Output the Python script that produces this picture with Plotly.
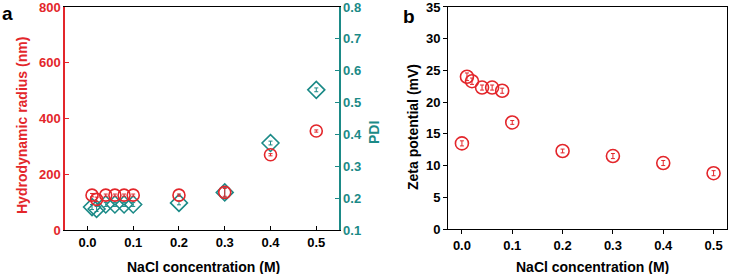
import plotly.graph_objects as go

# ---- data ----
nacl_a = [0.01, 0.02, 0.04, 0.06, 0.08, 0.10, 0.20, 0.30, 0.40, 0.50]
radius_nm = [125, 110, 125, 125, 125, 125, 125, 135, 270, 355]
radius_err = [6, 8, 4, 4, 4, 4, 4, 14, 4, 4]
pdi = [0.172, 0.166, 0.18, 0.18, 0.18, 0.18, 0.185, 0.218, 0.373, 0.54]
pdi_err = [0.008, 0.008, 0.006, 0.006, 0.006, 0.006, 0.006, 0.015, 0.006, 0.006]

nacl_b = [0.0, 0.01, 0.02, 0.04, 0.06, 0.08, 0.10, 0.20, 0.30, 0.40, 0.50]
zeta_mv = [13.5, 24.0, 23.3, 22.3, 22.3, 21.8, 16.8, 12.3, 11.5, 10.4, 8.8]
zeta_err = [0.4, 0.6, 0.5, 0.4, 0.4, 0.4, 0.3, 0.3, 0.4, 0.4, 0.4]

x_ticks = [0.0, 0.1, 0.2, 0.3, 0.4, 0.5]
x_ticktext = ["0.0", "0.1", "0.2", "0.3", "0.4", "0.5"]
r_ticks = [0, 200, 400, 600, 800]
pdi_ticks = [0.1, 0.2, 0.3, 0.4, 0.5, 0.6, 0.7, 0.8]
zeta_ticks = [0, 5, 10, 15, 20, 25, 30, 35]

RED = "#e3262b"
TEAL = "#1b8a87"
FONT = "Arial, Liberation Sans, sans-serif"

fig = go.Figure()

# PDI on the base (right-side) axis so the red circles draw above it
fig.add_trace(go.Scatter(
    x=nacl_a, y=pdi, mode="markers", xaxis="x", yaxis="y",
    marker=dict(symbol="diamond-open", size=13, color=TEAL, line=dict(width=1.6, color=TEAL)),
    error_y=dict(type="data", array=pdi_err, color=TEAL, thickness=1, width=2),
    showlegend=False))
fig.add_trace(go.Scatter(
    x=nacl_a, y=radius_nm, mode="markers", xaxis="x", yaxis="y2",
    marker=dict(symbol="circle-open", size=12, color=RED, line=dict(width=1.6, color=RED)),
    error_y=dict(type="data", array=radius_err, color=RED, thickness=1, width=2),
    showlegend=False))
fig.add_trace(go.Scatter(
    x=nacl_b, y=zeta_mv, mode="markers", xaxis="x2", yaxis="y3",
    marker=dict(symbol="circle-open", size=13, color=RED, line=dict(width=1.6, color=RED)),
    error_y=dict(type="data", array=zeta_err, color=RED, thickness=1, width=2),
    showlegend=False))

tickf_black = dict(family=FONT, size=13, color="black", weight="bold")

fig.update_layout(
    width=729, height=274,
    margin=dict(l=0, r=0, t=0, b=0),
    paper_bgcolor="white", plot_bgcolor="white",
    font=dict(family=FONT),
    xaxis=dict(domain=[0.0892, 0.4646], range=[-0.049, 0.549], anchor="y",
               tickvals=x_ticks, ticktext=x_ticktext, ticks="inside", ticklen=4,
               tickcolor="black", showline=True, linecolor="black", linewidth=1.2,
               mirror=True, showgrid=False, zeroline=False, tickfont=tickf_black,
               automargin=False, ticklabeloverflow="allow"),
    yaxis=dict(domain=[0.1606, 0.9745], range=[0.1, 0.80001], side="right", anchor="x",
               tickvals=pdi_ticks, tickformat=".1f", ticks="inside", ticklen=4,
               tickcolor=TEAL, showline=True, linecolor=TEAL, linewidth=1.6,
               showgrid=False, zeroline=False,
               tickfont=dict(family=FONT, size=13, color=TEAL, weight="bold"),
               automargin=False, ticklabeloverflow="allow"),
    yaxis2=dict(range=[0, 800.01], overlaying="y", side="left", anchor="x",
                tickvals=r_ticks, ticks="inside", ticklen=4, tickcolor=RED,
                showline=True, linecolor=RED, linewidth=1.6, showgrid=False,
                zeroline=False, tickfont=dict(family=FONT, size=13, color=RED, weight="bold"),
                automargin=False, ticklabeloverflow="allow"),
    xaxis2=dict(domain=[0.6150, 0.9968], range=[-0.027, 0.526], anchor="y3",
                tickvals=x_ticks, ticktext=x_ticktext, ticks="outside", ticklen=4,
                tickcolor="black", showline=True, linecolor="black", linewidth=1.4,
                mirror=True, showgrid=False, zeroline=False, tickfont=tickf_black,
                automargin=False, ticklabeloverflow="allow"),
    yaxis3=dict(domain=[0.1642, 0.9745], range=[0, 35.001], anchor="x2",
                tickvals=zeta_ticks, ticks="outside", ticklen=4, tickcolor="black",
                showline=True, linecolor="black", linewidth=1.4, mirror=True,
                showgrid=False, zeroline=False, tickfont=tickf_black,
                automargin=False, ticklabeloverflow="allow"),
)

def ann(text, x, y, size=14, color="black", angle=0):
    fig.add_annotation(text=text, x=x, y=y, xref="paper", yref="paper",
                       xanchor="center", yanchor="middle", showarrow=False,
                       textangle=angle,
                       font=dict(family=FONT, size=size, color=color, weight="bold"))

W, H = 729, 274
ann("NaCl concentration (M)", 203 / W, 1 - 267 / H)
ann("NaCl concentration (M)", 592 / W, 1 - 267 / H)
ann("Hydrodynamic radius (nm)", 22 / W, 1 - 126 / H, color=RED, angle=-90)
ann("PDI", 374 / W, 1 - 133 / H, color=TEAL, angle=-90)
ann("Zeta potential (mV)", 413 / W, 1 - 127 / H, angle=-90)
ann("a", 7 / W, 1 - 13 / H, size=19)
ann("b", 409 / W, 1 - 17 / H, size=19)

fig.write_html("out.html", config={"displayModeBar": False},
               post_script="document.body.style.margin='0';document.body.style.overflow='hidden';")
